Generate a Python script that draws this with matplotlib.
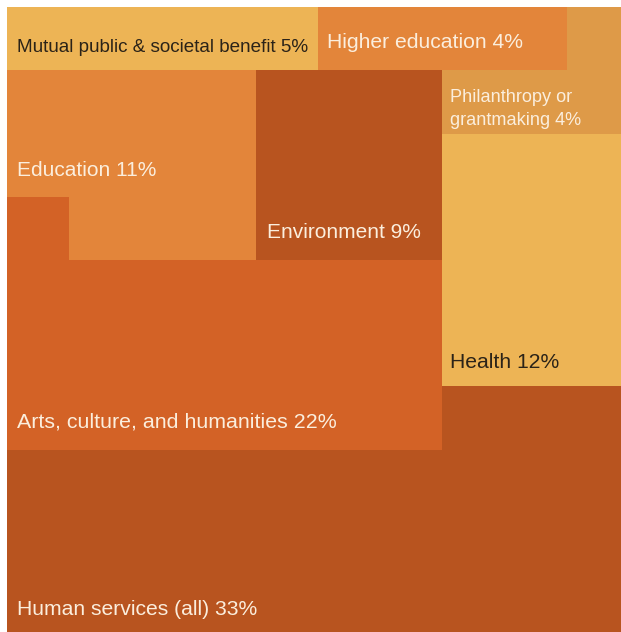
import numpy as np
import matplotlib
import matplotlib.pyplot as plt
from matplotlib.colors import ListedColormap, BoundaryNorm

matplotlib.use("Agg")

# Categories and their share of the total (percent)
categories = [
    "Human services (all)",
    "Arts, culture, and humanities",
    "Health",
    "Education",
    "Environment",
    "Mutual public & societal benefit",
    "Higher education",
    "Philanthropy or\ngrantmaking",
]
shares = [33, 22, 12, 11, 9, 5, 4, 4]
fill_colors = [
    "#B8541F", "#D36226", "#EDB455", "#E3853A",
    "#B8541F", "#EDB455", "#E3853A", "#DE9A48",
]
text_colors = [
    "#FBEEDD", "#FBEEDD", "#2B2318", "#FBEEDD",
    "#FBEEDD", "#2B2318", "#FBEEDD", "#FBEEDD",
]

# Tiling grid: column / row edges and the category filling each cell
col_edges = [0, 62, 249, 311, 435, 560, 614]
row_edges = [0, 63, 127, 190, 253, 379, 443, 625]
HS, ART, HEA, EDU, ENV, MUT, HED, PHI = range(8)
cells = np.array([
    [MUT, MUT, MUT, HED, HED, PHI],
    [EDU, EDU, ENV, ENV, PHI, PHI],
    [EDU, EDU, ENV, ENV, HEA, HEA],
    [ART, EDU, ENV, ENV, HEA, HEA],
    [ART, ART, ART, ART, HEA, HEA],
    [ART, ART, ART, ART, HS, HS],
    [HS, HS, HS, HS, HS, HS],
])

# Label anchors (left, baseline of last line) and font sizes
label_pos = [(10, 608), (10, 420), (443, 361), (10, 169),
             (260, 231), (10, 45), (320, 41), (443, 118)]
label_size = [15.2, 15.4, 15.2, 15.0, 15.0, 13.6, 15.2, 13.1]

fig = plt.figure(figsize=(6.21, 6.32), dpi=100)
ax = fig.add_axes([7 / 621, 0, 614 / 621, 625 / 632])

cmap = ListedColormap(fill_colors)
norm = BoundaryNorm(np.arange(len(categories) + 1) - 0.5, cmap.N)
ax.pcolormesh(col_edges, row_edges, cells, cmap=cmap, norm=norm,
              shading="flat", antialiased=False, linewidth=0)

for i, name in enumerate(categories):
    x, y = label_pos[i]
    ax.text(x, y, f"{name} {shares[i]}%", color=text_colors[i],
            fontsize=label_size[i], va="baseline", ha="left",
            linespacing=1.45, family="Liberation Sans")

ax.set_xlim(col_edges[0], col_edges[-1])
ax.set_ylim(row_edges[-1], row_edges[0])
ax.axis("off")

fig.savefig("out.png", dpi=100)
plt.close(fig)
